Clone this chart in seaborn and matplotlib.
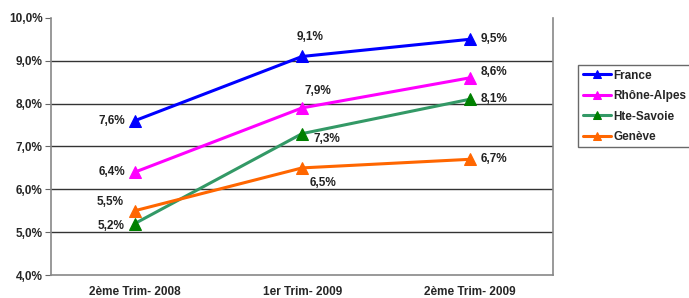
import pandas as pd
import matplotlib.pyplot as plt
import seaborn as sns

periods = ["2ème Trim- 2008", "1er Trim- 2009", "2ème Trim- 2009"]
series_names = ["France", "Rhône-Alpes", "Hte-Savoie", "Genève"]
france = [7.6, 9.1, 9.5]
rhone_alpes = [6.4, 7.9, 8.6]
hte_savoie = [5.2, 7.3, 8.1]
geneve = [5.5, 6.5, 6.7]
yticks = [4, 5, 6, 7, 8, 9, 10]

line_colors = ["#0000ff", "#ff00ff", "#339966", "#ff6600"]
marker_colors = ["#0000ff", "#ff00ff", "#008000", "#ff6600"]
# label offsets (points) per series / point
offsets = [
    [(-7, 0, "right", "center"), (6, 14, "center", "center"), (8, 0, "left", "center")],
    [(-7, 0, "right", "center"), (11, 12, "center", "center"), (8, 4, "left", "center")],
    [(-7, -2, "right", "center"), (8, -4, "left", "center"), (8, 0, "left", "center")],
    [(-8, 6, "right", "center"), (15, -11, "center", "center"), (8, 0, "left", "center")],
]

values = [france, rhone_alpes, hte_savoie, geneve]
rows = []
for name, vals in zip(series_names, values):
    for i, v in enumerate(vals):
        rows.append({"serie": name, "x": i, "taux": v})
df = pd.DataFrame(rows)

sns.set_style("white")
plt.rcParams["font.family"] = ["Liberation Sans", "DejaVu Sans"]
fs = 8.5

fig = plt.figure(figsize=(6.89, 2.98), dpi=100)
ax = fig.add_axes([0.074, 0.077, 0.729, 0.863])

for k, name in enumerate(series_names):
    sub = df[df["serie"] == name]
    sns.lineplot(data=sub, x="x", y="taux", ax=ax, color=line_colors[k], lw=2.2,
                 marker="^", markersize=8, markerfacecolor=marker_colors[k],
                 markeredgecolor=marker_colors[k], label=name)
    for i, v in enumerate(values[k]):
        dx, dy, ha, va = offsets[k][i]
        ax.annotate(f"{v:.1f}%".replace(".", ","), (i, v), xytext=(dx, dy),
                    textcoords="offset points", ha=ha, va=va, fontsize=fs,
                    fontweight="bold", color="#222222")

ax.set_xlim(-0.5, 2.5)
ax.set_ylim(4, 10)
ax.set_yticks(yticks)
ax.set_yticklabels([f"{t:.1f}%".replace(".", ",") for t in yticks],
                   fontsize=fs, fontweight="bold")
ax.set_xticks(range(len(periods)))
ax.set_xticklabels(periods, fontsize=fs, fontweight="bold")
ax.set_xticks([0.5, 1.5, 2.5], minor=True)
ax.tick_params(axis="x", which="major", length=0, pad=8)
ax.tick_params(axis="x", which="minor", length=4, direction="out", color="#666666")
ax.tick_params(axis="y", length=4, direction="out", color="#666666", pad=2, left=True)
ax.set_xlabel("")
ax.set_ylabel("")
for t in yticks[1:-1]:
    ax.axhline(t, color="#333333", lw=1, zorder=0)

for side in ["left", "bottom", "right"]:
    ax.spines[side].set_color("#888888")
    ax.spines[side].set_linewidth(1.2)
ax.spines["top"].set_visible(False)

leg = ax.legend(loc="upper left", bbox_to_anchor=(1.05, 0.815), frameon=True,
                fancybox=False, edgecolor="#444444",
                prop={"weight": "bold", "size": fs}, handlelength=2.4,
                handletextpad=0.2, borderpad=0.35, labelspacing=0.72,
                markerscale=0.7, borderaxespad=0)
leg.get_frame().set_linewidth(1)

fig.savefig("out.png", dpi=100)
